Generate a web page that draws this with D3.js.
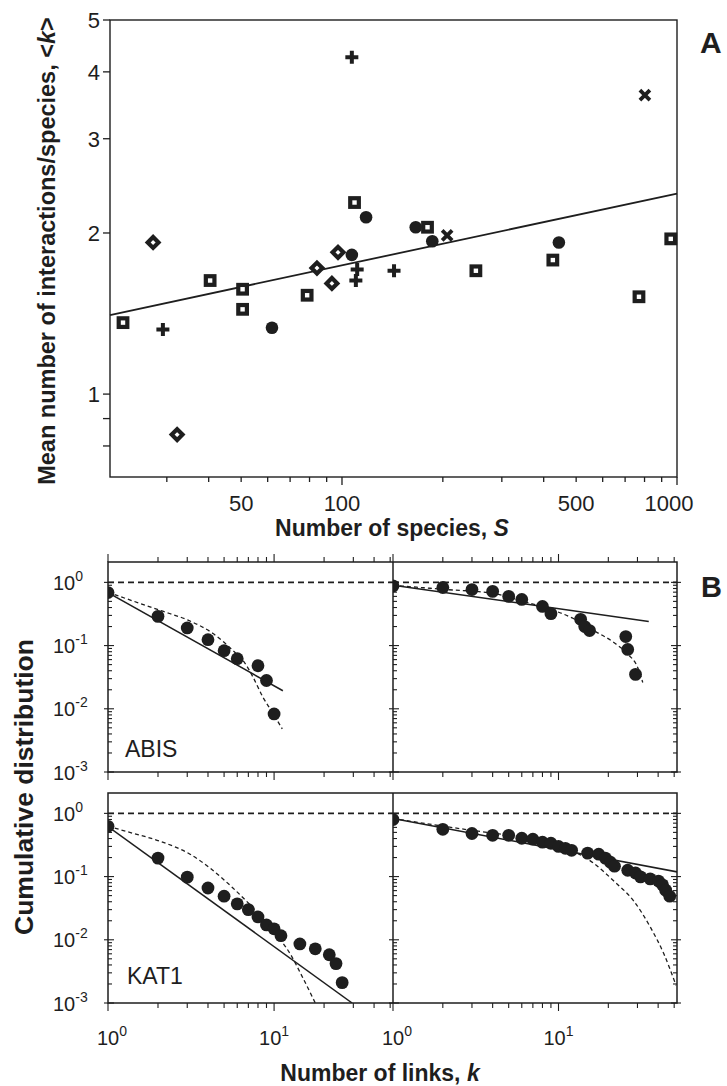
<!DOCTYPE html>
<html>
<head>
<meta charset="utf-8">
<script src="https://cdn.jsdelivr.net/npm/d3@7"></script>
<style>
body { margin: 0; background: #fff; }
svg { display: block; }
text { font-family: "Liberation Sans", Arial, Helvetica, sans-serif; fill: #1e1e1e; }
</style>
</head>
<body>
<svg></svg>
<script>
var w = 727
var h = 1086
var ink = "#1e1e1e"

// panel A : mean interactions per species <k> against number of species S
var squareS = [22.2, 40.4, 50.5, 50.5, 78.7, 109, 180, 251, 426, 770, 958]
var squareK = [1.36, 1.63, 1.57, 1.44, 1.53, 2.28, 2.05, 1.70, 1.78, 1.52, 1.95]
var circleS = [61.8, 107, 118, 166, 186, 444]
var circleK = [1.33, 1.82, 2.14, 2.05, 1.93, 1.92]
var diamondS = [27.3, 32.2, 84.2, 93.3, 97.3]
var diamondK = [1.92, 0.84, 1.72, 1.61, 1.84]
var plusS = [29.2, 107, 111, 110, 143]
var plusK = [1.32, 4.26, 1.71, 1.63, 1.70]
var crossS = [206, 802]
var crossK = [1.98, 3.62]
var fitS = [20.3, 1000]
var fitK = [1.405, 2.37]

var aTicksX = [30, 40, 50, 60, 70, 80, 90, 100, 200, 300, 400, 500, 600, 700, 800, 900, 1000]
var aLabelsX = [50, 100, 500, 1000]
var aTicksY = [0.8, 0.9, 1, 2, 3, 4, 5]
var aLabelsY = [1, 2, 3, 4, 5]

// panel B : cumulative distributions of links k
var abisK = [1, 2, 3, 4, 5, 6, 8, 9, 10]
var abisP = [0.69, 0.29, 0.19, 0.124, 0.083, 0.062, 0.048, 0.028, 0.0083]
var abisPowK = [1, 11.3]
var abisPowP = [0.69, 0.0193]
var abisExpK = [1, 2.06, 3.07, 4.29, 5.66, 6.7, 7.5, 8.6, 9.9, 11.2]
var abisExpP = [0.694, 0.36, 0.249, 0.155, 0.083, 0.052, 0.031, 0.015, 0.0083, 0.0048]

var web2K = [1, 2, 3, 4, 5, 6, 8, 9, 13.6, 14.4, 15.4, 25.5, 26.2, 29.2]
var web2P = [0.88, 0.83, 0.77, 0.72, 0.60, 0.537, 0.416, 0.32, 0.26, 0.20, 0.173, 0.139, 0.087, 0.035]
var web2PowK = [1, 35.1]
var web2PowP = [0.9, 0.24]
var web2ExpK = [1, 2.04, 4.04, 6.14, 8.6, 12.3, 16.3, 21.6, 26.1, 30.1, 32.3]
var web2ExpP = [0.896, 0.774, 0.669, 0.50, 0.387, 0.268, 0.173, 0.112, 0.074, 0.045, 0.026]

var katK = [1, 2, 3, 4, 5, 6, 7, 8, 9, 10, 11, 14.3, 17.7, 21.5, 23.6, 25.7]
var katP = [0.624, 0.196, 0.098, 0.066, 0.049, 0.037, 0.030, 0.023, 0.0172, 0.0149, 0.0116, 0.0086, 0.0072, 0.0058, 0.0042, 0.0021]
var katPowK = [1, 29.5]
var katPowP = [0.62, 0.001]
var katExpK = [1, 1.415, 2.06, 3.12, 4.12, 5.65, 7.46, 9.87, 12.5, 14.9, 17.7]
var katExpP = [0.624, 0.484, 0.362, 0.226, 0.136, 0.066, 0.032, 0.0139, 0.006, 0.0025, 0.001]

var web4K = [1, 2, 3, 4, 5, 6, 7, 8, 9, 10, 11, 12, 15, 17.5, 19.2, 20.6, 21.8, 26.2, 29.2, 31.3, 35.8, 40.2, 42.5, 44.4, 47]
var web4P = [0.80, 0.56, 0.48, 0.45, 0.45, 0.404, 0.39, 0.35, 0.337, 0.30, 0.28, 0.26, 0.235, 0.226, 0.196, 0.169, 0.146, 0.126, 0.114, 0.099, 0.092, 0.085, 0.074, 0.061, 0.049]
var web4PowK = [1, 52.6]
var web4PowP = [0.83, 0.118]
var web4ExpK = [1, 2.03, 4.06, 8.1, 12.3, 16.3, 21.6, 28.5, 36.1, 43.3, 51.3]
var web4ExpP = [0.83, 0.624, 0.484, 0.39, 0.252, 0.163, 0.085, 0.041, 0.0154, 0.006, 0.0019]

var bTicksX = [1, 2, 3, 4, 5, 6, 7, 8, 9, 10, 20, 30, 40, 50]
var bMajorX = [1, 10]
var bExps = [0, -1, -2, -3]

var svg = d3.select("svg")
	.attr("width", w)
	.attr("height", h)
	.style("background-color", "white")

function zip(a, b) {
	return a.map(function(d, i) { return [d, b[i]] })
}

//---------------- panel A
var ax = d3.scaleLog().domain([20.3, 1000]).range([110, 677])
var ay = d3.scaleLog().domain([0.7, 5]).range([477, 20])

var gA = svg.append("g")

gA.append("rect")
	.attr("x", 110).attr("y", 20)
	.attr("width", 567).attr("height", 457)
	.attr("fill", "none")
	.attr("stroke", ink)
	.attr("stroke-width", 1.4)

gA.selectAll(".xt").data(aTicksX).enter().append("line")
	.attr("x1", function(d) { return ax(d) })
	.attr("x2", function(d) { return ax(d) })
	.attr("y1", 477)
	.attr("y2", function(d) { return (d == 100 || d == 1000) ? 485 : 482 })
	.attr("stroke", ink).attr("stroke-width", 1.3)

gA.selectAll(".xl").data(aLabelsX).enter().append("text")
	.attr("x", function(d) { return ax(d) - (d == 1000 ? 8 : 0) })
	.attr("y", 511)
	.attr("text-anchor", "middle")
	.attr("font-size", 22)
	.text(function(d) { return d })

gA.selectAll(".yt").data(aTicksY).enter().append("line")
	.attr("x1", 103).attr("x2", 110)
	.attr("y1", function(d) { return ay(d) })
	.attr("y2", function(d) { return ay(d) })
	.attr("stroke", ink).attr("stroke-width", 1.3)

gA.selectAll(".yl").data(aLabelsY).enter().append("text")
	.attr("x", 100)
	.attr("y", function(d) { return ay(d) + 8 })
	.attr("text-anchor", "end")
	.attr("font-size", 22)
	.text(function(d) { return d })

// regression line
gA.append("path")
	.attr("d", d3.line().x(function(d) { return ax(d[0]) }).y(function(d) { return ay(d[1]) })(zip(fitS, fitK)))
	.attr("stroke", ink).attr("stroke-width", 1.8).attr("fill", "none")

// markers
gA.selectAll(".sq").data(zip(squareS, squareK)).enter().append("rect")
	.attr("x", function(d) { return ax(d[0]) - 4.3 })
	.attr("y", function(d) { return ay(d[1]) - 4.3 })
	.attr("width", 8.6).attr("height", 8.6)
	.attr("fill", "white").attr("stroke", ink).attr("stroke-width", 4.2)

gA.selectAll(".ci").data(zip(circleS, circleK)).enter().append("circle")
	.attr("cx", function(d) { return ax(d[0]) })
	.attr("cy", function(d) { return ay(d[1]) })
	.attr("r", 6.3)
	.attr("fill", ink)

gA.selectAll(".di").data(zip(diamondS, diamondK)).enter().append("path")
	.attr("transform", function(d) { return "translate(" + ax(d[0]) + "," + ay(d[1]) + ")" })
	.attr("d", "M0,-5.4L5.4,0L0,5.4L-5.4,0Z")
	.attr("fill", "white").attr("stroke", ink).attr("stroke-width", 4.2)

gA.selectAll(".pl").data(zip(plusS, plusK)).enter().append("path")
	.attr("transform", function(d) { return "translate(" + ax(d[0]) + "," + ay(d[1]) + ")" })
	.attr("d", "M-6.5,0H6.5M0,-6.5V6.5")
	.attr("fill", "none").attr("stroke", ink).attr("stroke-width", 4)

gA.selectAll(".cr").data(zip(crossS, crossK)).enter().append("path")
	.attr("transform", function(d) { return "translate(" + ax(d[0]) + "," + ay(d[1]) + ")" })
	.attr("d", "M-5,-5L5,5M-5,5L5,-5")
	.attr("fill", "none").attr("stroke", ink).attr("stroke-width", 3.8)

// axis titles
var ytA = gA.append("text")
	.attr("transform", "translate(55,251) rotate(-90)")
	.attr("text-anchor", "middle")
	.attr("font-size", 23.5)
	.attr("font-weight", "bold")
ytA.append("tspan").text("Mean number of interactions/species, <")
ytA.append("tspan").attr("font-style", "italic").text("k")
ytA.append("tspan").text(">")

var xtA = gA.append("text")
	.attr("x", 392).attr("y", 536)
	.attr("text-anchor", "middle")
	.attr("font-size", 23)
	.attr("font-weight", "bold")
xtA.append("tspan").text("Number of species, ")
xtA.append("tspan").attr("font-style", "italic").text("S")

gA.append("text").attr("x", 700).attr("y", 53)
	.attr("font-size", 30).attr("font-weight", "bold").text("A")

//---------------- panel B
var bx1 = d3.scaleLog().domain([1, 52]).range([108, 393])
var bx2 = d3.scaleLog().domain([1, 52]).range([393, 677])
var byTop = d3.scaleLog().domain([0.001, 2.1]).range([772, 562])
var byBot = d3.scaleLog().domain([0.001, 2.1]).range([1003, 793])

var yTickVals = []
bExps.forEach(function(e) {
	for (var m = 1; m < 10; m++) {
		var v = m * Math.pow(10, e)
		if (v <= 1) yTickVals.push(v)
	}
})

var defs = svg.append("defs")

function drawSub(id, xs, ys, ks, ps, powK, powP, expK, expP) {
	var r = xs.range(), rr = ys.range()
	defs.append("clipPath").attr("id", id)
		.append("rect")
		.attr("x", r[0]).attr("y", rr[1])
		.attr("width", r[1] - r[0]).attr("height", rr[0] - rr[1])

	var g = svg.append("g")

	// y ticks on the left axis of this subplot
	g.selectAll(".yt").data(yTickVals).enter().append("line")
		.attr("x1", function(d) { return isMajor(d) ? r[0] - 4 : r[0] })
		.attr("x2", function(d) { return isMajor(d) ? r[0] + 6 : r[0] + 4 })
		.attr("y1", function(d) { return ys(d) })
		.attr("y2", function(d) { return ys(d) })
		.attr("stroke", ink).attr("stroke-width", 1.1)

	var inner = g.append("g").attr("clip-path", "url(#" + id + ")")

	// horizontal dashed line at 1
	inner.append("line")
		.attr("x1", r[0]).attr("x2", r[1])
		.attr("y1", ys(1)).attr("y2", ys(1))
		.attr("stroke", ink).attr("stroke-width", 1.7)
		.attr("stroke-dasharray", "6,4")

	var line = d3.line()
		.x(function(d) { return xs(d[0]) })
		.y(function(d) { return ys(d[1]) })

	inner.append("path")
		.attr("d", line(zip(powK, powP)))
		.attr("stroke", ink).attr("stroke-width", 1.5).attr("fill", "none")

	inner.append("path")
		.attr("d", line.curve(d3.curveMonotoneX)(zip(expK, expP)))
		.attr("stroke", ink).attr("stroke-width", 1.3).attr("fill", "none")
		.attr("stroke-dasharray", "4,3")

	inner.selectAll(".pt").data(zip(ks, ps)).enter().append("circle")
		.attr("cx", function(d) { return xs(d[0]) })
		.attr("cy", function(d) { return ys(d[1]) })
		.attr("r", 6.4)
		.attr("fill", ink)
	return g
}

function isMajor(v) {
	var l = Math.log10(v)
	return Math.abs(l - Math.round(l)) < 1e-9
}

drawSub("cTL", bx1, byTop, abisK, abisP, abisPowK, abisPowP, abisExpK, abisExpP)
drawSub("cTR", bx2, byTop, web2K, web2P, web2PowK, web2PowP, web2ExpK, web2ExpP)
drawSub("cBL", bx1, byBot, katK, katP, katPowK, katPowP, katExpK, katExpP)
drawSub("cBR", bx2, byBot, web4K, web4P, web4PowK, web4PowP, web4ExpK, web4ExpP)

// frames of the two rows
;[byTop, byBot].forEach(function(ys) {
	var rr = ys.range()
	svg.append("rect")
		.attr("x", 108).attr("y", rr[1])
		.attr("width", 569).attr("height", rr[0] - rr[1])
		.attr("fill", "none").attr("stroke", ink).attr("stroke-width", 1.5)
	svg.append("line")
		.attr("x1", 393).attr("x2", 393)
		.attr("y1", rr[1]).attr("y2", rr[0])
		.attr("stroke", ink).attr("stroke-width", 1.5)
	// right axis ticks, pointing in
	svg.selectAll(null).data(yTickVals).enter().append("line")
		.attr("x1", function(d) { return isMajor(d) ? 671 : 673 })
		.attr("x2", function(d) { return isMajor(d) ? 681 : 677 })
		.attr("y1", function(d) { return ys(d) })
		.attr("y2", function(d) { return ys(d) })
		.attr("stroke", ink).attr("stroke-width", 1.1)
	// y labels
	bExps.forEach(function(e) {
		var t = svg.append("text")
			.attr("x", 53).attr("y", ys(Math.pow(10, e)) + 7.5)
			.attr("font-size", 20)
		t.append("tspan").text("10")
		t.append("tspan").attr("dy", -9).attr("font-size", 14).text(e)
	})
})

// x ticks: top of upper row points up, bottoms point down
;[bx1, bx2].forEach(function(xs) {
	svg.selectAll(null).data(bTicksX).enter().append("line")
		.attr("x1", function(d) { return xs(d) }).attr("x2", function(d) { return xs(d) })
		.attr("y1", 562).attr("y2", function(d) { return bMajorX.indexOf(d) >= 0 ? 554 : 557 })
		.attr("stroke", ink).attr("stroke-width", 1.1)
	;[772, 1003].forEach(function(yb) {
		svg.selectAll(null).data(bTicksX).enter().append("line")
			.attr("x1", function(d) { return xs(d) }).attr("x2", function(d) { return xs(d) })
			.attr("y1", yb).attr("y2", function(d) { return bMajorX.indexOf(d) >= 0 ? yb + 8 : yb + 5 })
			.attr("stroke", ink).attr("stroke-width", 1.1)
	})
	bMajorX.forEach(function(v, i) {
		var t = svg.append("text")
			.attr("x", xs(v) + (i == 0 ? 4 : 0)).attr("y", 1045)
			.attr("text-anchor", "middle")
			.attr("font-size", 20)
		t.append("tspan").text("10")
		t.append("tspan").attr("dy", -9).attr("font-size", 14).text(i)
	})
})

svg.append("text").attr("x", 125).attr("y", 757).attr("font-size", 23).text("ABIS")
svg.append("text").attr("x", 127).attr("y", 984).attr("font-size", 23).text("KAT1")

svg.append("text")
	.attr("transform", "translate(33,787) rotate(-90)")
	.attr("text-anchor", "middle")
	.attr("font-size", 26.5)
	.attr("font-weight", "bold")
	.text("Cumulative distribution")

var xtB = svg.append("text")
	.attr("x", 380).attr("y", 1081)
	.attr("text-anchor", "middle")
	.attr("font-size", 23)
	.attr("font-weight", "bold")
xtB.append("tspan").text("Number of links, ")
xtB.append("tspan").attr("font-style", "italic").text("k")

svg.append("text").attr("x", 701).attr("y", 597)
	.attr("font-size", 29).attr("font-weight", "bold").text("B")
</script>
</body>
</html>
